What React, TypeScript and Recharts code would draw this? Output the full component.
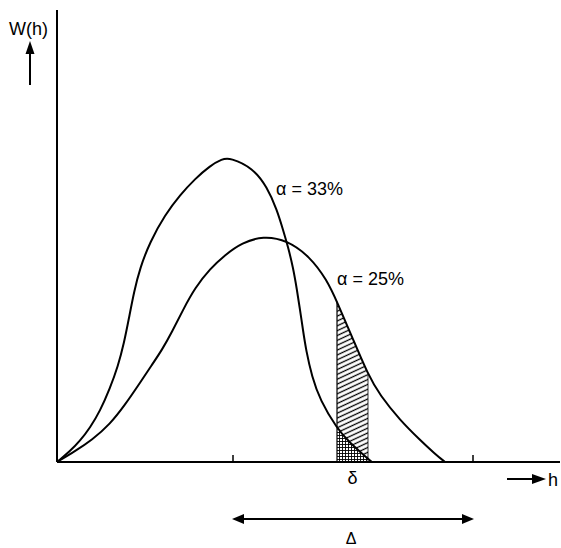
import { ComposedChart, Line, Area, XAxis, YAxis, ReferenceLine } from 'recharts';

const WIDTH = 561;
const HEIGHT = 548;
const MARGIN = { top: 10, right: 1, bottom: 56, left: 56 };
const X_AXIS_H = 30;
const Y_AXIS_W = 1;
const X_MAX = 100.6; // 5 px per unit of h
const Y_MAX = 100.4; // 4.5 px per unit of W
const AXIS_Y = HEIGHT - MARGIN.bottom - X_AXIS_H;
const FONT = '"Liberation Sans", "DejaVu Sans", sans-serif';

// distribution for alpha = 33 %
const h33 = [0, 2.6, 4.6, 6.6, 8.6, 10.6, 12.2, 13.4, 14.4, 15.4, 16.6, 18.6, 21.6, 24.6, 27.6, 30.6, 33, 34.6, 39.2, 42, 44, 45.2, 46.2, 47.2, 48, 48.6, 49.2, 49.8, 51, 52.6, 56, 58.6, 62.2, 63];
const w33 = [0, 2.4, 4.7, 7.6, 11.3, 16.4, 21.3, 26.4, 32, 37.8, 43.1, 48.9, 54.9, 59.3, 62.9, 65.8, 67.3, 67.6, 65.3, 61.1, 56, 51.6, 47.8, 43.3, 38.2, 33.8, 29.3, 24.9, 18.9, 13.8, 7.4, 4.2, 0.7, 0];

// distribution for alpha = 25 %
const h25 = [0, 3.6, 7, 10.6, 13.6, 16.6, 19, 21, 23, 25.2, 27.6, 30.6, 33.6, 37, 41.2, 46, 50.6, 54, 56, 59.2, 62.2, 64.6, 68.6, 72.6, 75.6, 77.6];
const w25 = [0, 2.4, 4.9, 8.4, 12.7, 17.6, 21.6, 24.9, 28.9, 33.8, 38.7, 42.9, 46, 48.7, 50.2, 49.3, 45.6, 40.4, 35.6, 27.3, 19.4, 14.8, 9.3, 4.9, 1.8, 0];

// tolerance band delta and range Delta on the h axis
const delta = [56, 62.2];
const bigDelta = [35.2, 83.2];
const tickValues = [bigDelta[0], (delta[0] + delta[1]) / 2, bigDelta[1]];
const tickLabels = ['', 'δ', ''];

const curve33 = h33.map((x, i) => ({ x, w: w33[i] }));
const curve25 = h25.map((x, i) => ({ x, w: w25[i] }));
const inDelta = (p: { x: number }) => p.x >= delta[0] && p.x <= delta[1];
const hatch25 = curve25.filter(inDelta);
const hatch33 = curve33.filter(inDelta);

const plotLeft = MARGIN.left + Y_AXIS_W;
const toPx = (x: number) => plotLeft + (x / X_MAX) * (WIDTH - plotLeft - MARGIN.right);

const renderTick = (props: any) => {
	const { x, payload } = props;
	const label = tickLabels[tickValues.indexOf(payload.value)];
	if (label) {
		return (
			<g>
				<text x={x} y={AXIS_Y + 22} textAnchor="middle" fontSize={18} fontFamily={FONT} fill="#000">
					{label}
				</text>
			</g>
		);
	}
	return (
		<g>
			<line x1={x} x2={x} y1={AXIS_Y} y2={AXIS_Y - 7} stroke="#000" strokeWidth={1.5} />
		</g>
	);
};

export default function App() {
	const dl = toPx(bigDelta[0]);
	const dr = toPx(bigDelta[1]);
	const ay = 519;
	return (
		<div style={{ position: 'absolute', left: 0, top: 0, width: WIDTH, height: HEIGHT, background: '#fff' }}>
			<ComposedChart width={WIDTH} height={HEIGHT} margin={MARGIN}>
				<defs>
					<pattern id="hatch" patternUnits="userSpaceOnUse" width="8" height="4.4" patternTransform="rotate(-25)">
						<line x1="0" y1="2.2" x2="8" y2="2.2" stroke="#000" strokeWidth="1.3" />
					</pattern>
					<pattern id="grid" patternUnits="userSpaceOnUse" width="3" height="3">
						<rect width="3" height="3" fill="#fff" />
						<path d="M0 0.5 H3 M0.5 0 V3" stroke="#000" strokeWidth="0.9" />
					</pattern>
				</defs>
				<XAxis
					type="number"
					dataKey="x"
					domain={[0, X_MAX]}
					allowDataOverflow
					ticks={tickValues}
					interval={0}
					height={X_AXIS_H}
					tickLine={false}
					tick={renderTick}
					axisLine={{ stroke: '#000', strokeWidth: 2 }}
				/>
				<YAxis
					type="number"
					domain={[0, Y_MAX]}
					allowDataOverflow
					width={Y_AXIS_W}
					tick={false}
					tickLine={false}
					axisLine={{ stroke: '#000', strokeWidth: 2 }}
				/>
				<Area data={hatch25} dataKey="w" type="basis" stroke="none" fill="url(#hatch)" fillOpacity={1} isAnimationActive={false} />
				<Area data={hatch33} dataKey="w" type="basis" stroke="none" fill="url(#grid)" fillOpacity={1} isAnimationActive={false} />
				<ReferenceLine segment={[{ x: delta[0], y: 0 }, { x: delta[0], y: hatch25[0].w }]} stroke="#000" strokeWidth={1.2} />
				<ReferenceLine
					segment={[{ x: delta[1], y: 0 }, { x: delta[1], y: hatch25[hatch25.length - 1].w }]}
					stroke="#000"
					strokeWidth={0.8}
				/>
				<Line data={curve33} dataKey="w" type="basis" stroke="#000" strokeWidth={2} dot={false} isAnimationActive={false} />
				<Line data={curve25} dataKey="w" type="basis" stroke="#000" strokeWidth={2} dot={false} isAnimationActive={false} />
			</ComposedChart>
			<svg width={WIDTH} height={HEIGHT} style={{ position: 'absolute', left: 0, top: 0, pointerEvents: 'none' }}>
				<g fontFamily={FONT} fill="#000">
					<text x={9} y={35} fontSize={18}>W(h)</text>
					<text x={276} y={195} fontSize={18}>α = 33%</text>
					<text x={337} y={285} fontSize={18}>α = 25%</text>
					<text x={548} y={486} fontSize={18}>h</text>
					<text x={(dl + dr) / 2 - 2} y={544} fontSize={16} textAnchor="middle">Δ</text>
				</g>
				{/* W(h) arrow */}
				<line x1={30} x2={30} y1={85} y2={52} stroke="#000" strokeWidth={2} />
				<polygon points="30,41 25.5,54 34.5,54" fill="#000" />
				{/* h arrow */}
				<line x1={507} x2={534} y1={479} y2={479} stroke="#000" strokeWidth={2} />
				<polygon points="546,479 532,474 532,484" fill="#000" />
				{/* Delta range */}
				<line x1={dl + 8} x2={dr - 8} y1={ay} y2={ay} stroke="#000" strokeWidth={2} />
				<polygon points={`${dl - 1},${ay} ${dl + 11},${ay - 5} ${dl + 11},${ay + 5}`} fill="#000" />
				<polygon points={`${dr + 1},${ay} ${dr - 11},${ay - 5} ${dr - 11},${ay + 5}`} fill="#000" />
			</svg>
		</div>
	);
}
